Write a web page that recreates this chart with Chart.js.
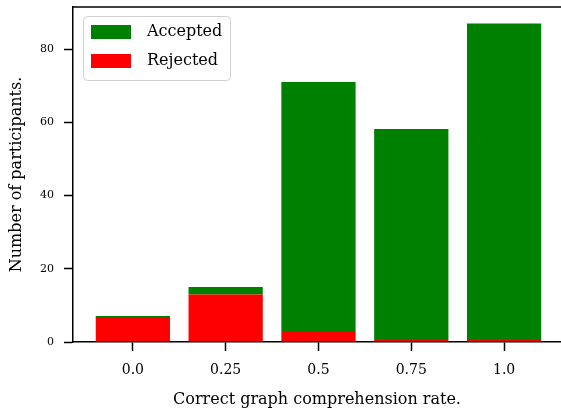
<!DOCTYPE html>
<html>
<head>
<meta charset="utf-8">
<script src="https://cdn.jsdelivr.net/npm/chart.js@4/dist/chart.umd.min.js"></script>
<style>
  html, body { margin: 0; padding: 0; background: #fff; }
  #chart { display: block; }
</style>
</head>
<body>
<canvas id="chart" width="561" height="413"></canvas>
<script>
const rates = [0, 0.25, 0.5, 0.75, 1.0];
const tickLabels = ['0.0', '0.25', '0.5', '0.75', '1.0'];
const rejected = [6.8, 13, 3, 0.8, 0.8];
const accepted = [0.3, 2, 68, 57.4, 86.2];

const serif = "'DejaVu Serif', serif";

// top spine + matplotlib-style legend box
const frame = {
  id: 'frame',
  afterDraw(chart) {
    const ctx = chart.ctx;
    const a = chart.chartArea;
    ctx.save();
    ctx.strokeStyle = '#000';
    ctx.lineWidth = 1.5;
    ctx.beginPath();
    ctx.moveTo(a.left - 0.75, a.top);
    ctx.lineTo(a.right, a.top);
    ctx.stroke();

    const x = a.left + 10, y = a.top + 9;
    ctx.beginPath();
    ctx.roundRect(x + 0.5, y + 0.5, 147, 64, 4);
    ctx.fillStyle = 'rgba(255,255,255,0.8)';
    ctx.fill();
    ctx.strokeStyle = '#d0d0d0';
    ctx.lineWidth = 1;
    ctx.stroke();

    const sets = chart.data.datasets.slice().reverse();
    ctx.font = '16px ' + serif;
    ctx.textBaseline = 'middle';
    sets.forEach((ds, i) => {
      const py = y + 9 + i * 29;
      ctx.fillStyle = ds.backgroundColor;
      ctx.fillRect(x + 8, py, 40, 14);
      ctx.fillStyle = '#000';
      ctx.fillText(ds.label, x + 64, py + 7);
    });
    ctx.restore();
  }
};

new Chart(document.getElementById('chart'), {
  type: 'bar',
  data: {
    datasets: [
      { label: 'Rejected', data: rates.map((r, i) => ({ x: r, y: rejected[i] })), backgroundColor: '#ff0000' },
      { label: 'Accepted', data: rates.map((r, i) => ({ x: r, y: accepted[i] })), backgroundColor: '#008000' }
    ]
  },
  options: {
    responsive: false,
    animation: false,
    barPercentage: 0.8,
    categoryPercentage: 1.0,
    layout: { padding: { top: 7, right: 0, left: 0, bottom: 0 } },
    plugins: { legend: { display: false }, tooltip: { enabled: false } },
    scales: {
      x: {
        type: 'linear',
        stacked: true,
        offset: false,
        min: -0.16125,
        max: 1.15325,
        afterBuildTicks: s => { s.ticks = rates.map(v => ({ value: v })); },
        afterFit: s => { s.height = 71; s.paddingLeft = 0; s.paddingRight = 0; },
        ticks: {
          callback: (v, i) => tickLabels[i],
          color: '#000',
          font: { family: serif, size: 14 },
          padding: 11,
          maxRotation: 0
        },
        grid: { display: true, offset: false, drawOnChartArea: false, drawTicks: true, tickLength: 9, tickColor: '#000', tickWidth: 1.5 },
        border: { color: '#000', width: 1.5 },
        title: {
          display: true,
          text: 'Correct graph comprehension rate.',
          color: '#000',
          font: { family: serif, size: 16 },
          padding: { top: 4, bottom: 4 }
        }
      },
      y: {
        stacked: true,
        min: 0,
        max: 91.5,
        afterFit: s => { s.width = 73; s.paddingTop = 0; s.paddingBottom = 0; },
        ticks: {
          stepSize: 20,
          includeBounds: false,
          color: '#000',
          font: { family: serif, size: 11 },
          padding: 10
        },
        grid: { display: true, drawOnChartArea: false, drawTicks: true, tickLength: 9, tickColor: '#000', tickWidth: 1.5 },
        border: { color: '#000', width: 1.5 },
        title: {
          display: true,
          text: 'Number of participants.',
          color: '#000',
          font: { family: serif, size: 16 },
          padding: { top: 7, bottom: 4 }
        }
      }
    }
  },
  plugins: [frame]
});
</script>
</body>
</html>
